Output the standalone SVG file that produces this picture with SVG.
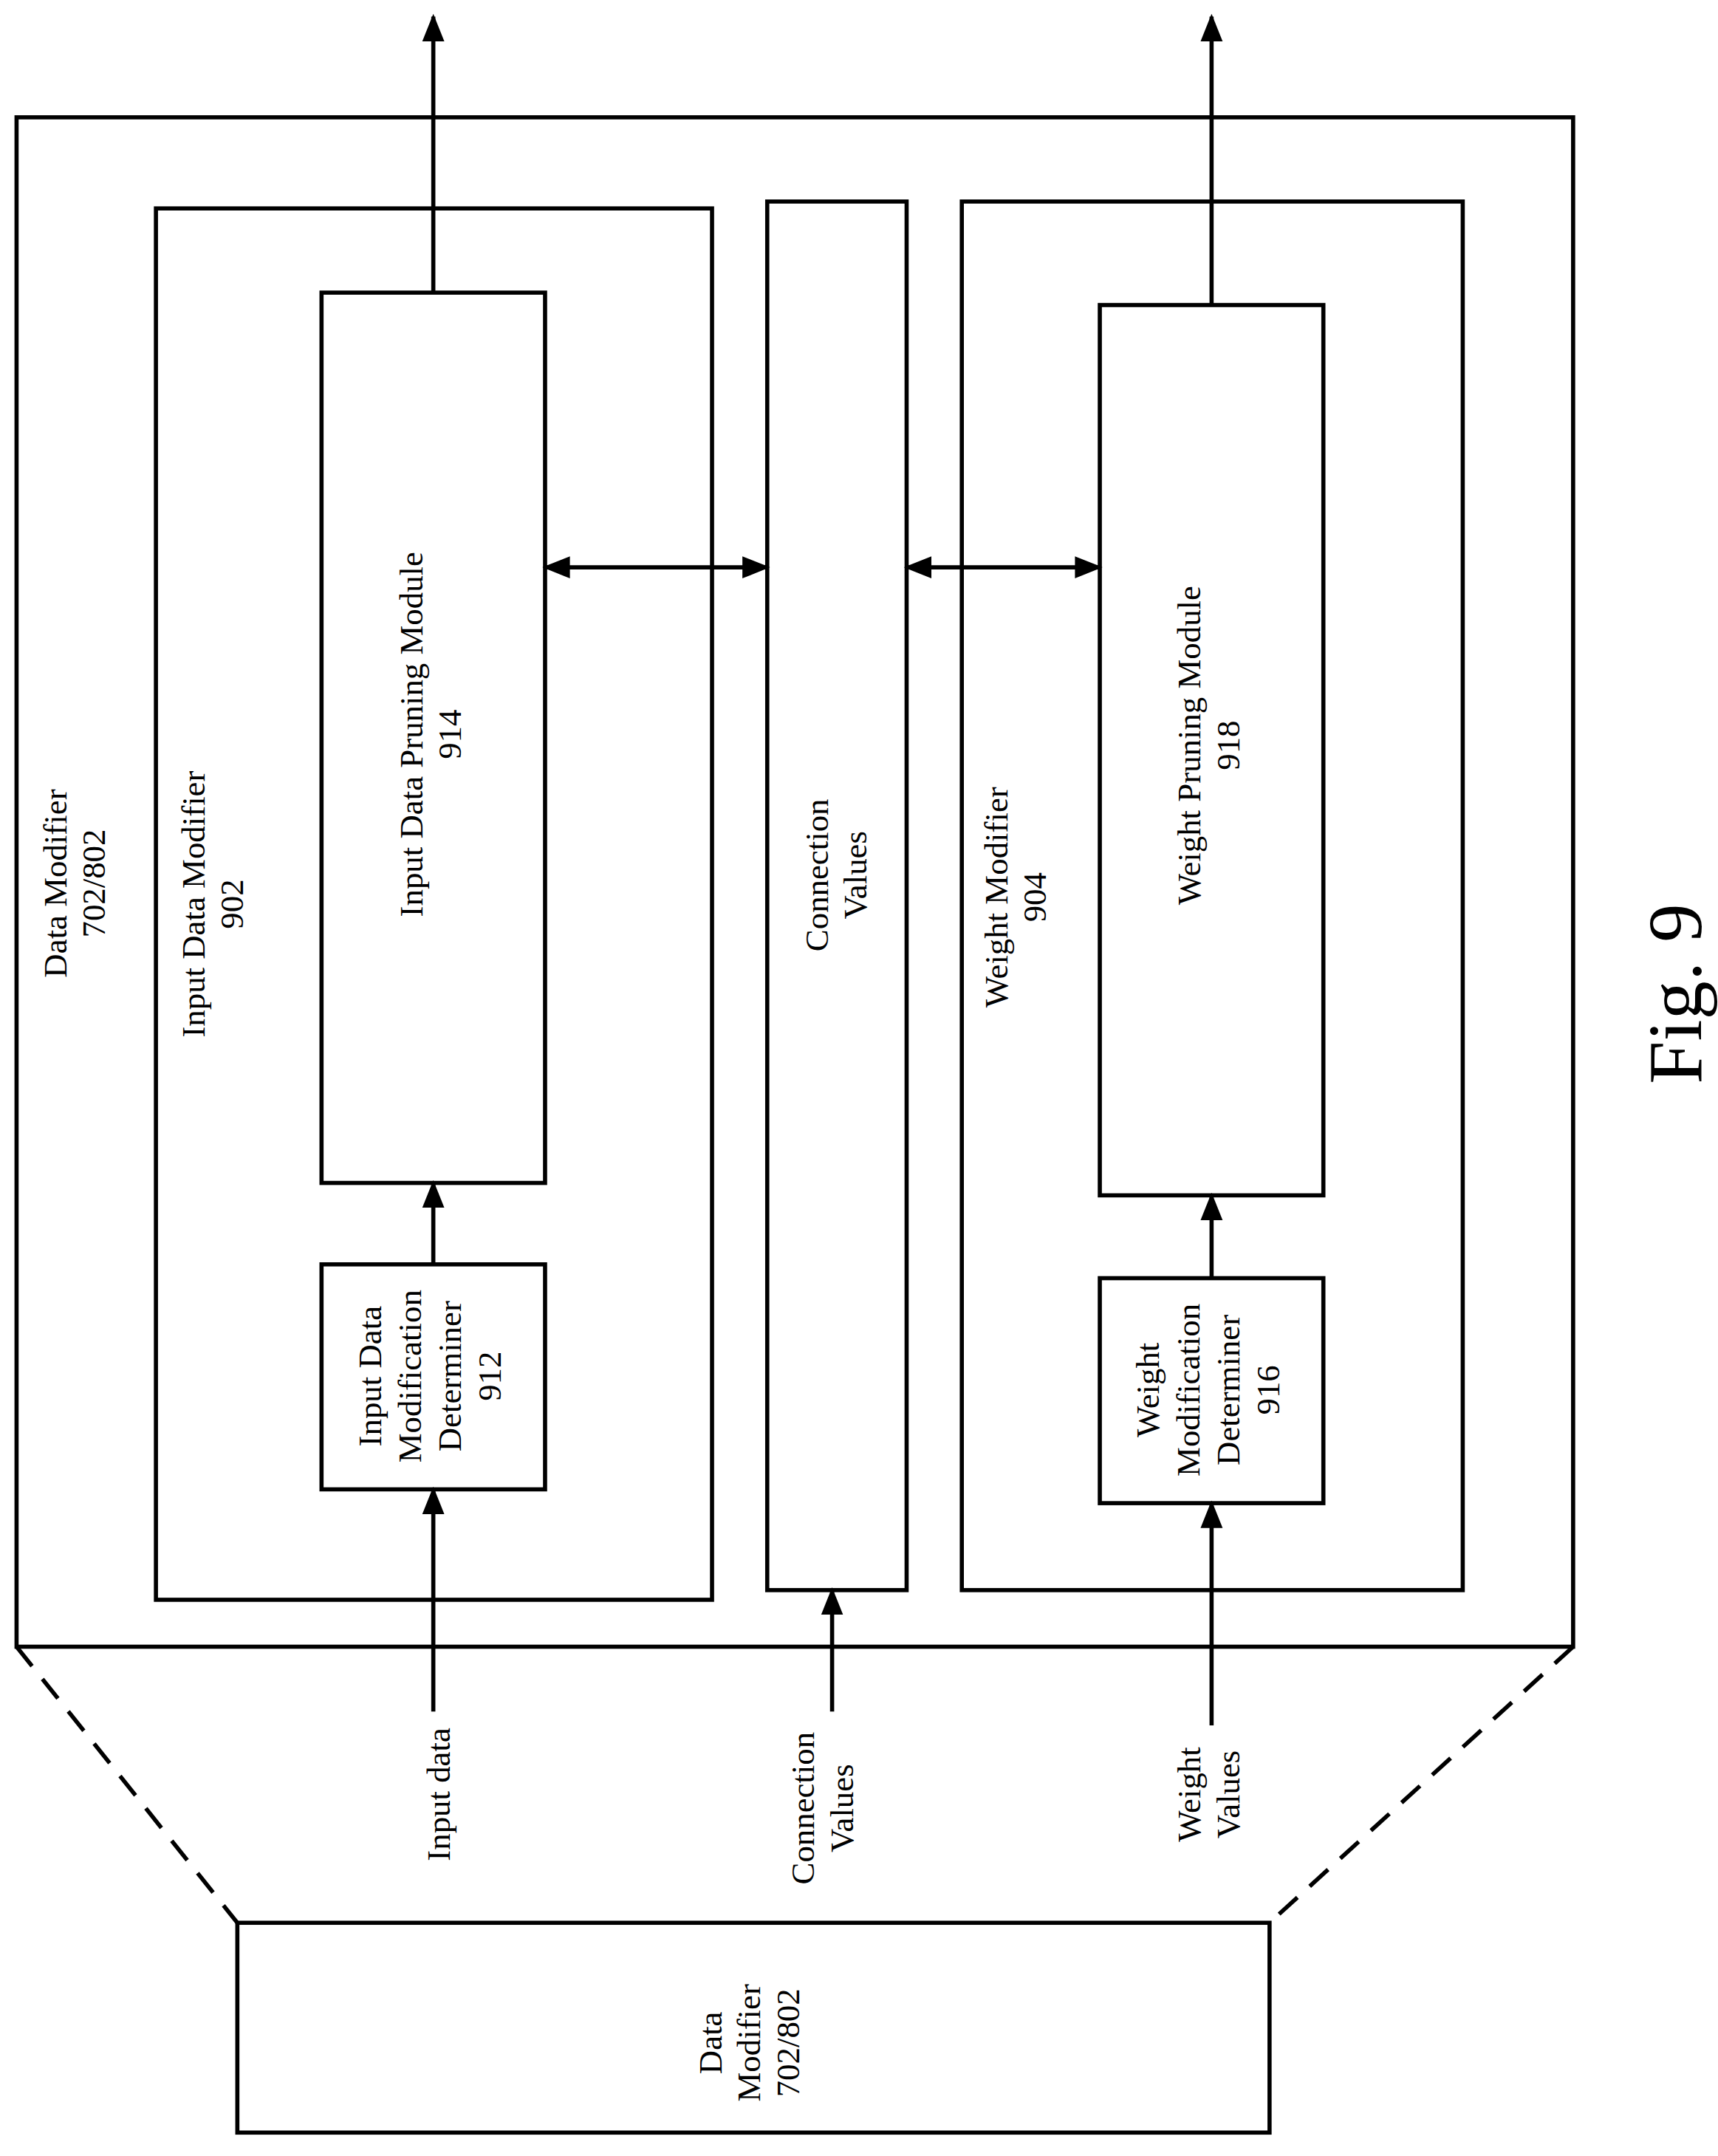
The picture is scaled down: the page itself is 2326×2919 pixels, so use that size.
<svg xmlns="http://www.w3.org/2000/svg" width="2326" height="2919" viewBox="0 0 2326 2919">
<defs>
<style>
.b{fill:none;stroke:#000;stroke-width:3}
.l{fill:none;stroke:#000;stroke-width:3}
text{font-family:"Liberation Serif",serif;font-size:24px;text-anchor:middle;dominant-baseline:central;fill:#000}
</style>
</defs>
<rect width="2326" height="2919" fill="#fff"/>
<g transform="scale(1.8683,1.8688)">
<defs><marker id="ah2" markerWidth="20" markerHeight="20" refX="18" refY="8" orient="auto-start-reverse" markerUnits="userSpaceOnUse" viewBox="0 0 20 16"><path d="M0,0 L20,8 L0,16 z" fill="#000"/></marker></defs>
<g id="outer"><rect class="b" x="12" y="85" width="1128" height="1108"/>
<text transform="rotate(-90 40 640)" x="40" y="640">Data Modifier</text>
<text transform="rotate(-90 68 640)" x="68" y="640">702/802</text></g>
<g id="n902"><rect class="b" x="113" y="151" width="403" height="1008"/>
<text transform="rotate(-90 140 655)" x="140" y="655">Input Data Modifier</text>
<text transform="rotate(-90 168 655)" x="168" y="655">902</text></g>
<g id="conn"><rect class="b" x="556" y="146" width="101" height="1006"/>
<text transform="rotate(-90 592 634)" x="592" y="634">Connection</text>
<text transform="rotate(-90 620 634)" x="620" y="634">Values</text></g>
<g id="n904"><rect class="b" x="697" y="146" width="363" height="1006"/>
<text transform="rotate(-90 722 650)" x="722" y="650">Weight Modifier</text>
<text transform="rotate(-90 750 650)" x="750" y="650">904</text></g>
<g id="n914"><rect class="b" x="233" y="212" width="162" height="645"/>
<text transform="rotate(-90 298 532)" x="298" y="532">Input Data Pruning Module</text>
<text transform="rotate(-90 326 532)" x="326" y="532">914</text></g>
<g id="n912"><rect class="b" x="233" y="916" width="162" height="163"/>
<text transform="rotate(-90 268 997)" x="268" y="997">Input Data</text>
<text transform="rotate(-90 297 997)" x="297" y="997">Modification</text>
<text transform="rotate(-90 326 997)" x="326" y="997">Determiner</text>
<text transform="rotate(-90 355 997)" x="355" y="997">912</text></g>
<g id="n918"><rect class="b" x="797" y="221" width="162" height="645"/>
<text transform="rotate(-90 862 540)" x="862" y="540">Weight Pruning Module</text>
<text transform="rotate(-90 890 540)" x="890" y="540">918</text></g>
<g id="n916"><rect class="b" x="797" y="926" width="162" height="163"/>
<text transform="rotate(-90 832 1007)" x="832" y="1007">Weight</text>
<text transform="rotate(-90 861 1007)" x="861" y="1007">Modification</text>
<text transform="rotate(-90 890 1007)" x="890" y="1007">Determiner</text>
<text transform="rotate(-90 919 1007)" x="919" y="1007">916</text></g>
<g id="bottom"><rect class="b" x="172" y="1393" width="748" height="152"/>
<text transform="rotate(-90 515 1480)" x="515" y="1480">Data</text>
<text transform="rotate(-90 543 1480)" x="543" y="1480">Modifier</text>
<text transform="rotate(-90 571 1480)" x="571" y="1480">702/802</text></g>
<g id="labels">
<text transform="rotate(-90 318 1300)" x="318" y="1300">Input data</text>
<text transform="rotate(-90 582 1310)" x="582" y="1310">Connection</text>
<text transform="rotate(-90 610 1310)" x="610" y="1310">Values</text>
<text transform="rotate(-90 862 1300)" x="862" y="1300">Weight</text>
<text transform="rotate(-90 890 1300)" x="890" y="1300">Values</text>
<text transform="rotate(-90 1214 720)" x="1214" y="720" style="font-size:56px">Fig. 9</text>
</g>
<g id="connectors">
<path class="l" d="M12,1193 L172,1393 M1140,1193 L920,1393" stroke-dasharray="18,12"/>
<path class="l" d="M314,212 L314,12" marker-end="url(#ah2)"/>
<path class="l" d="M878,221 L878,12" marker-end="url(#ah2)"/>
<path class="l" d="M314,1240 L314,1079" marker-end="url(#ah2)"/>
<path class="l" d="M314,916 L314,857" marker-end="url(#ah2)"/>
<path class="l" d="M878,1250 L878,1089" marker-end="url(#ah2)"/>
<path class="l" d="M878,926 L878,866" marker-end="url(#ah2)"/>
<path class="l" d="M603,1240 L603,1152" marker-end="url(#ah2)"/>
<path class="l" d="M395,411 L556,411" marker-start="url(#ah2)" marker-end="url(#ah2)"/>
<path class="l" d="M657,411 L797,411" marker-start="url(#ah2)" marker-end="url(#ah2)"/>
</g>
</g>
</svg>
